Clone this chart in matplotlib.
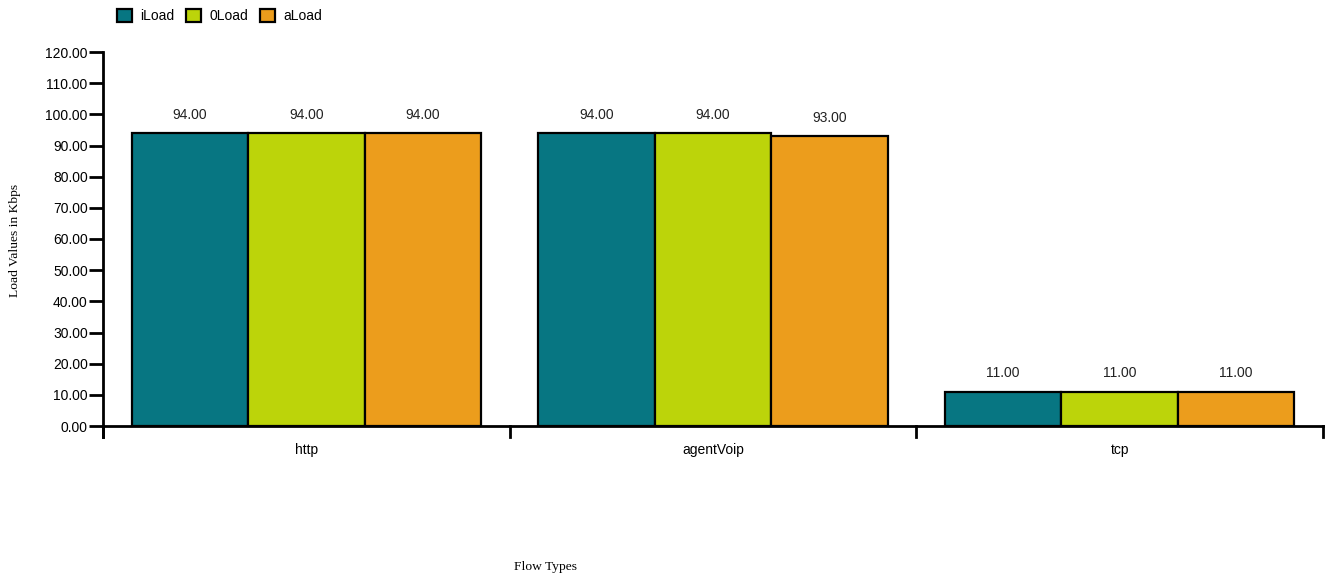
import matplotlib
matplotlib.use("Agg")
import matplotlib.pyplot as plt
import numpy as np

categories = ["http", "agentVoip", "tcp"]
series_names = ["iLoad", "0Load", "aLoad"]
iload = [94, 94, 11]
oload = [94, 94, 11]
aload = [94, 93, 11]
colors = ["#077682", "#bcd40a", "#ec9d1c"]
yticks = [0, 10, 20, 30, 40, 50, 60, 70, 80, 90, 100, 110, 120]

plt.rcParams['font.family'] = ['Liberation Sans', 'DejaVu Sans']

fig = plt.figure(figsize=(13.32, 5.79), dpi=100)
ax = fig.add_axes([103/1332, 153/579, 1220/1332, 374/579])

series = [iload, oload, aload]
x = np.arange(len(categories))
w = 0.2865
for i, (vals, c, name) in enumerate(zip(series, colors, series_names)):
    pos = x + (i - 1) * w
    ax.bar(pos, vals, width=w, color=c, edgecolor='black', linewidth=1.6, label=name, zorder=2)
    for p, v in zip(pos, vals):
        ax.text(p, v + 3.7, f"{v:.2f}", ha='center', va='bottom', fontsize=10, color='#222222')

ax.set_xlim(-0.5, len(categories) - 0.5)
ax.set_ylim(0, 120)
for s in ax.spines.values():
    s.set_visible(False)

# custom axis lines
ax.plot([-0.5, -0.5], [-3.6, 120], color='black', lw=2, clip_on=False, zorder=3)
ax.plot([-0.5, len(categories) - 0.5], [0, 0], color='black', lw=2, clip_on=False, zorder=3)
for b in np.arange(-0.5, len(categories), 1.0):
    ax.plot([b, b], [0, -3.6], color='black', lw=2, clip_on=False, zorder=3)

ax.set_yticks(yticks)
ax.set_yticklabels([f"{t:.2f}" for t in yticks], fontsize=10)
ax.tick_params(axis='y', length=10, width=2, pad=1)
ax.set_xticks(x)
ax.set_xticklabels(categories, fontsize=10)
ax.tick_params(axis='x', length=0, pad=12)

fig.text(15/1332, 1 - 240/579, "Load Values in Kbps", rotation=90, ha='center', va='center',
         fontsize=9.7, family=['Liberation Serif'])
fig.text(545/1332, 1 - 567/579, "Flow Types", ha='center', va='center',
         fontsize=9.7, family=['Liberation Serif'])

leg = fig.legend(loc='upper left', bbox_to_anchor=(104/1332, 1.006), ncol=3, frameon=False,
                 fontsize=10, handlelength=1.1, handleheight=1.1, columnspacing=0.85, handletextpad=0.6)

fig.savefig("out.png", dpi=100)
